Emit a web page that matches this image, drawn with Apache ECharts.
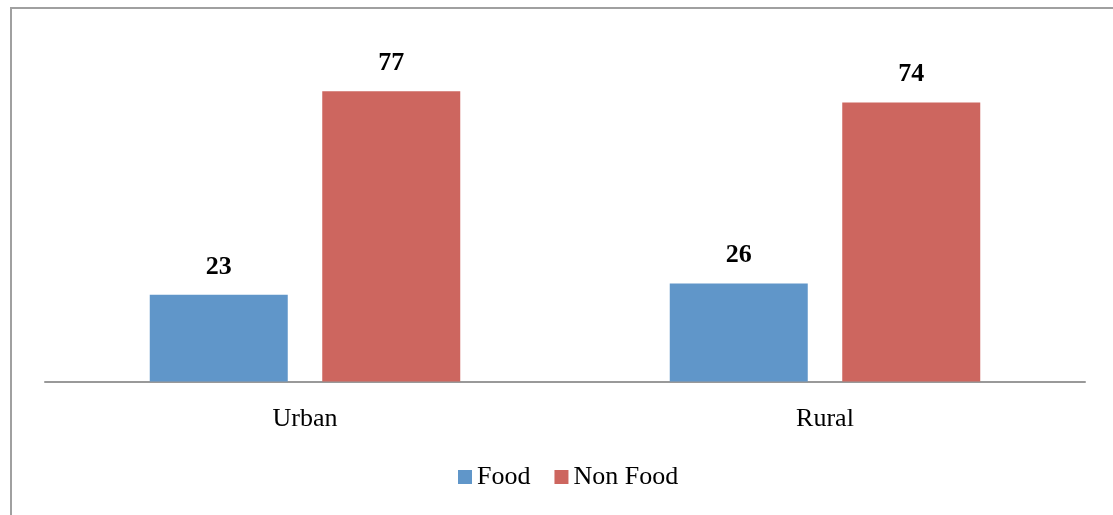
<!DOCTYPE html>
<html>
<head>
<meta charset="utf-8">
<script src="https://cdn.jsdelivr.net/npm/echarts@6/dist/echarts.min.js"></script>
<style>
  html, body { margin: 0; padding: 0; background: #fff; }
  #chart { width: 1113px; height: 515px; }
</style>
</head>
<body>
<div id="chart"></div>
<script>
const categories = ["Urban", "Rural"];
const foodValues = [23, 26];
const nonFoodValues = [77, 74];

const serif = "'Liberation Serif', 'DejaVu Serif', serif";

const chart = echarts.init(document.getElementById("chart"), null, { renderer: "canvas" });

const labelStyle = {
  show: true,
  position: "top",
  distance: 15,
  fontFamily: serif,
  fontWeight: "bold",
  fontSize: 26,
  color: "#000"
};

chart.setOption({
  animation: false,
  graphic: [
    {
      type: "rect",
      shape: { x: 11, y: 8, width: 1200, height: 600 },
      style: { fill: "none", stroke: "#a0a0a0", lineWidth: 2 },
      silent: true
    }
  ],
  grid: { left: 45, right: 28, top: 80, bottom: 133.5 },
  legend: {
    top: 459,
    left: 453,
    itemWidth: 14,
    itemHeight: 14,
    itemGap: 24,
    icon: "rect",
    textStyle: { fontFamily: serif, fontSize: 26, color: "#000", padding: [6, 0, 0, 0] },
    data: ["Food", "Non Food"]
  },
  xAxis: {
    type: "category",
    data: categories,
    axisLine: { lineStyle: { color: "#999", width: 2 } },
    axisTick: { show: false },
    axisLabel: { fontFamily: serif, fontSize: 26, color: "#000", margin: 25 }
  },
  yAxis: {
    type: "value",
    min: 0,
    max: 80,
    show: false,
    splitLine: { show: false }
  },
  series: [
    {
      name: "Food",
      type: "bar",
      data: foodValues,
      barWidth: 138,
      barGap: "25%",
      itemStyle: { color: "#6096c9" },
      label: labelStyle
    },
    {
      name: "Non Food",
      type: "bar",
      data: nonFoodValues,
      barWidth: 138,
      itemStyle: { color: "#cd665f" },
      label: labelStyle
    }
  ]
});
</script>
</body>
</html>
